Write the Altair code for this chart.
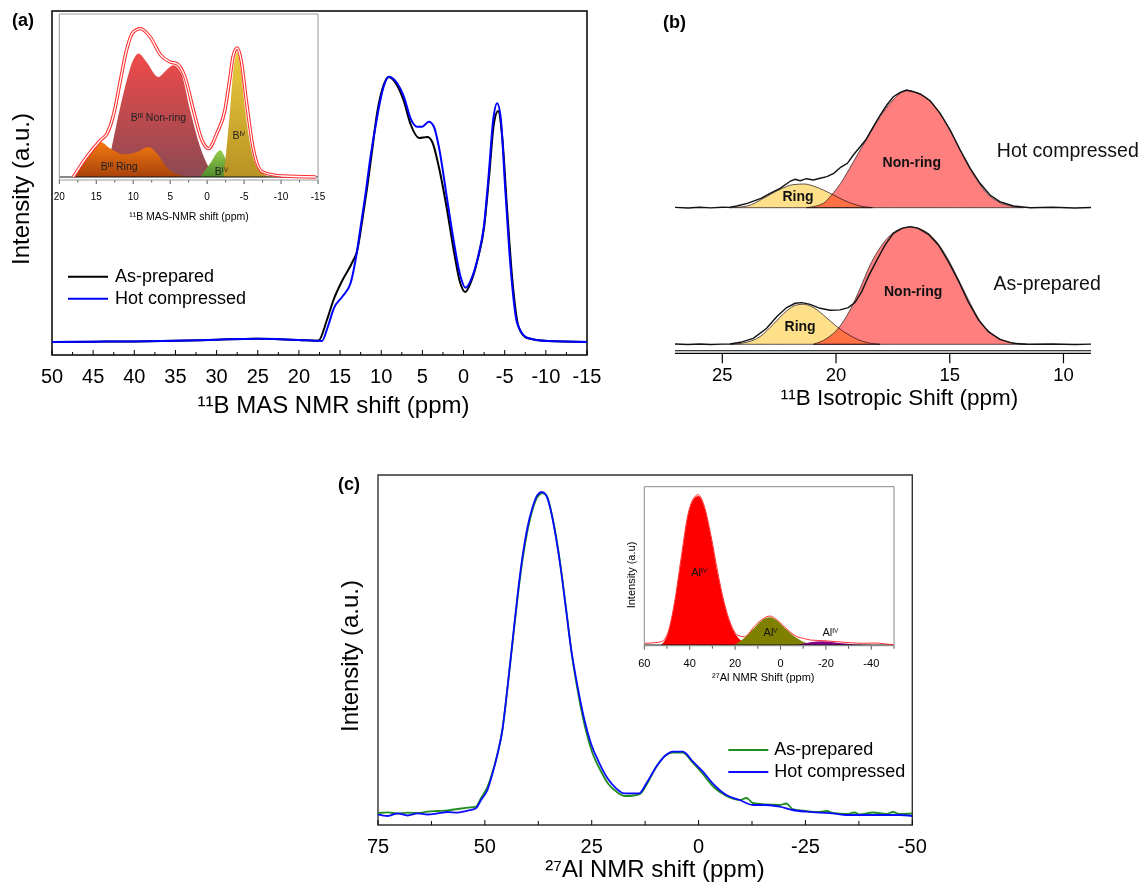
import altair as alt
import pandas as pd

W, H = 1131, 878
FONT = "Liberation Sans"
SERIES = ["As-prepared", "Hot compressed"]


def px(v):
    """page pixel -> chart pixel (the page has an 8 px margin)"""
    return v - 8


def lin(domain, rng):
    return alt.Scale(domain=domain, range=rng, nice=False, zero=False)


# ===================== (a) main : 11B MAS NMR =====================
a_ap_ppm = [50, 45, 40, 35, 30, 25, 20, 18, 17.6, 16.6, 15.8, 14.7, 13.5, 12.9, 12.3, 11.7, 11.1, 10.5,
            9.9, 9.1, 8.1, 7.3, 6.4, 5.4, 4.4, 3.8, 3.0, 2.0, 1.2, 0.4, -0.2, -0.85, -1.7, -2.5, -3.1,
            -3.7, -4.2, -4.7, -5.3, -5.9, -6.7, -7.7, -10.2, -15]
a_ap_int = [0, 0.3, 0.6, 1.2, 2.3, 3.2, 2.0, 1.2, 1.5, 22, 42, 62, 80, 92, 122, 155, 192, 229,
            252, 265, 257, 242, 217, 204, 205, 200, 175, 132, 92, 59, 50, 59, 82, 115, 165,
            219, 231, 205, 132, 65, 15, 4, 1, 0]
a_hc_ppm = [50, 45, 40, 35, 30, 25, 20, 18, 17.2, 16.5, 15.76, 14.74, 13.73, 13.12, 12.5, 11.9, 11.3,
            10.49, 9.88, 9.07, 8.06, 7.25, 6.44, 5.63, 5.02, 4.21, 3.6, 3.0, 1.98, 1.18, 0.36, -0.24,
            -1.06, -1.86, -2.47, -3.07, -3.6, -4.09, -4.5, -5.1, -5.71, -6.52, -7.74, -10.2, -15]
a_hc_int = [0, 0.3, 0.6, 1.2, 2.3, 3.2, 2.0, 1.2, 1.0, 15, 33.7, 45.3, 58.7, 82, 115.3, 148.7, 185.3,
            225.3, 250.3, 265.3, 258.7, 245.3, 223.7, 215.3, 215.3, 220.3, 215.3, 195.3, 142, 100.3, 65.3, 54.3,
            65.3, 88.7, 115.3, 168.7, 222, 238.7, 225.3, 148.7, 75.3, 18.7, 4.3, 1, 0]
a_ticks = [50, 45, 40, 35, 30, 25, 20, 15, 10, 5, 0, -5, -10, -15]
a_minor = [47.5, 42.5, 37.5, 32.5, 27.5, 22.5, 17.5, 12.5, 7.5, 2.5, -2.5, -7.5, -12.5]
a_x_dom = [50, -15]
a_y_dom = [-13, 331]

# ===================== (a) inset : deconvolution =====================
ai_env_ppm = [18.1, 16.3, 14.4, 13.5, 12.6, 11.8, 10.9, 10.0, 9.05, 7.7, 6.3, 5.0, 4.1, 3.0, 1.85, 0.7,
              -0.2, -1.3, -2.4, -3.1, -3.5, -4.07, -4.6, -5.3, -6.2, -7.5, -10.2, -14.7]
ai_env_int = [0, 20, 37, 44, 64, 94, 127, 145, 148.4, 140, 122, 115, 113.4, 100, 66.7, 36.7,
              28.4, 43.4, 66.7, 100, 120, 129, 116.7, 76.7, 30, 5, 1, 0]
ai_nonring_ppm = [13.8, 12.9, 12.2, 11.1, 10.0, 9.3, 8.2, 6.6, 5.5, 4.6, 3.5, 2.3, 0.94, -0.2, -1.3]
ai_nonring_int = [0, 30, 55, 90, 117, 123.4, 115, 100, 107, 111.7, 103.4, 66.7, 30, 10, 0]
ai_ring_ppm = [18.0, 16.3, 14.45, 13.1, 11.3, 9.5, 7.9, 6.8, 5.5, 3.6, 2.2]
ai_ring_int = [0, 20, 35, 28.4, 22.7, 25, 30, 23.4, 10, 1.7, 0]
ai_b4a_ppm = [0.94, -0.4, -1.75, -2.6, -3.5, -4.2]
ai_b4a_int = [0, 13.4, 26.7, 16.7, 3.3, 0]
ai_b4b_ppm = [-2.2, -2.6, -3.1, -3.5, -4.07, -4.5, -5.1, -5.8, -6.9, -8.5, -9.5]
ai_b4b_int = [0, 26.7, 66.7, 103.4, 125, 110, 70, 33.4, 8.4, 0.5, 0]
ai_lab_ppm = [6.6, -4.3, 11.9, -1.9]
ai_lab_int = [59, 41, 10, 5.3]
ai_lab_txt = ["Bᴵᴵᴵ Non-ring", "Bᴵⱽ", "Bᴵᴵᴵ Ring", "Bᴵⱽ"]
ai_ticks = [20, 15, 10, 5, 0, -5, -10, -15]
ai_minor = [17.5, 12.5, 7.5, 2.5, -2.5, -7.5, -12.5]
ai_x_dom = [20, -15]
ai_y_dom = [-3, 163]

# ===================== (b) : isotropic shift =====================
b_hc_off = 136.6
b_hc_exp_ppm = [27.08, 26.5, 26.0, 25.5, 25.0, 24.7, 24.37, 23.9, 23.3, 22.9, 22.46, 22.0, 21.8, 21.58,
                21.3, 21.0, 20.7, 20.4, 20.1, 19.8, 19.5, 19.24, 18.94, 18.7, 18.36, 18.06, 17.77, 17.48,
                17.18, 16.9, 16.6, 16.3, 15.86, 15.42, 14.98, 14.54, 14.1, 13.67, 13.23, 12.8, 12.2,
                11.46, 10.5, 9.5, 8.79]
b_hc_exp_int = [0.3, -0.3, 0.4, -0.2, 0.5, 0.3, 1.7, 4.3, 9.3, 14.3, 19.3, 26.7, 28.4, 27,
                29, 27.7, 29.4, 31, 34.4, 40.4, 44.4, 52.7, 61, 67.7, 81, 92.7, 102.7, 111,
                115.4, 117.7, 116, 113.7, 107, 94.4, 77.7, 57.7, 39.4, 24.4, 12.7, 6, 1.7,
                0, 0.4, -0.3, 0.2]
b_hc_ring_ppm = [24.7, 23.9, 23.2, 22.46, 21.9, 21.4, 21.0, 20.56, 20.2, 19.68, 19.1, 18.4]
b_hc_ring_int = [0, 1.7, 9.3, 18.3, 23, 23.7, 21.7, 17.7, 13.7, 7.7, 2.7, 0]
b_hc_non_ppm = [21.3, 20.56, 20.2, 19.8, 19.4, 18.94, 18.5, 18.06, 17.6, 17.18, 16.8, 16.45, 16.0,
                15.57, 15.13, 14.7, 14.25, 13.8, 13.37, 12.93, 12.34, 11.76]
b_hc_non_int = [0, 4.3, 12.7, 24.3, 39.4, 57.7, 74.4, 91, 105, 114.4, 117, 115, 109.4,
                98.4, 82.7, 64.4, 44.4, 27.7, 14.3, 6.7, 1.7, 0]
b_ap_exp_ppm = [27.08, 26.5, 26, 25.5, 25, 24.66, 24.2, 23.64, 23.05, 22.6, 22.17, 21.8, 21.5, 21.14,
                20.7, 20.26, 19.82, 19.46, 19.16, 18.87, 18.58, 18.2, 17.84, 17.48, 17.1, 16.74, 16.38,
                15.94, 15.5, 15.06, 14.6, 14.18, 13.74, 13.3, 12.8, 12.2, 11.6, 10.5, 9.5, 8.79]
b_ap_exp_int = [0.3, -0.2, 0.3, -0.2, 0.2, 0.3, 2, 6, 16, 27.7, 36.7, 41, 41.7, 40,
                36, 34, 34.4, 36.7, 42, 52.7, 67.7, 84.4, 99.4, 111, 116, 117.7, 116,
                110, 99.4, 82.7, 62.7, 42, 24.4, 12.7, 5, 1, 0, 0.3, -0.2, 0.2]
b_ap_ring_ppm = [24.66, 23.93, 23.34, 22.76, 22.17, 21.73, 21.44, 21.07, 20.56, 19.97, 19.38, 18.8, 18.06]
b_ap_ring_int = [0, 2, 7.7, 20, 33.4, 39.4, 40, 37.7, 29.4, 17.7, 8.7, 2.7, 0]
b_ap_non_ppm = [21.0, 20.4, 19.9, 19.38, 18.94, 18.5, 18.06, 17.6, 17.18, 16.74, 16.3, 15.86, 15.42,
                14.98, 14.54, 14.1, 13.67, 13.23, 12.7, 12.05, 11.6]
b_ap_non_int = [0, 6, 16, 34.4, 56, 79.4, 96.7, 109.4, 115.4, 117.4, 115.4, 109.4, 97.7,
                81, 61, 41, 23.4, 12, 4.4, 0.7, 0]
b_comp_lab_txt = ["Ring", "Non-ring", "Ring", "Non-ring"]
b_comp_lab_ppm = [21.67, 16.67, 21.58, 16.61]
b_comp_lab_int = [11, 44.4, 17.6, 52]
b_comp_lab_spec = ["Hot compressed", "Hot compressed", "As-prepared", "As-prepared"]
b_name_ppm = [12.93, 13.08]
b_name_int = [56.7, 60.3]
b_name_txt = ["Hot compressed", "As-prepared"]
b_ticks = [25, 20, 15, 10]
b_x_dom = [27.08, 8.79]
b_y_dom = [-9, 291]

# ===================== (c) main : 27Al NMR =====================
c_ap_ppm = [75, 72.7, 70.4, 68.1, 65.7, 63.4, 61.1, 58.7, 56.4, 54, 52.1, 50.9, 49.4, 48.2, 47.0, 45.9,
            44.7, 43.5, 42.3, 41.2, 40.0, 38.8, 37.7, 36.5, 35.5, 34.4, 33.2, 32.0, 30.8, 29.7, 28.1,
            26.5, 25.0, 23.0, 21.1, 19.1, 17.2, 15.2, 13.7, 12.2, 9.9, 7.6, 6.0, 3.7, 1.3, -1.0, -3.3,
            -6.5, -9.6, -11.2, -12.7, -15.8, -19, -20.5, -22, -25.2, -28.3, -30, -31.4, -34.6, -36.5,
            -37.7, -40.8, -43.9, -45.5, -47, -50]
c_ap_int = [12, 12.7, 11.3, 12.3, 12, 13.3, 14, 14.7, 16, 17.3, 18.3, 27, 38, 53, 72, 95,
            137, 183, 229, 265, 295, 316, 328, 332, 329, 312, 285, 250, 210, 172, 130,
            97, 74, 55, 41, 33, 29, 29.5, 31, 40, 58, 70, 72.5, 72.5, 62, 51, 39,
            29, 25, 27, 22, 20.5, 20, 21.5, 16, 14, 13, 14, 12, 11, 12.5,
            10.5, 12.5, 11, 13, 11, 11.5]
c_hc_ppm = [75, 72.7, 70.4, 68.1, 65.7, 63.4, 61.1, 58.7, 56.4, 54, 52.1, 50.9, 49.4, 48.2, 47.0, 45.9,
            44.7, 43.5, 42.3, 41.2, 40.0, 38.8, 37.7, 36.7, 35.7, 34.6, 33.4, 32.2, 31.0, 29.9, 28.3,
            26.7, 25.2, 23.2, 21.3, 19.3, 17.4, 15.4, 13.9, 12.2, 9.9, 7.6, 6.0, 3.7, 1.3, -1.0, -3.3,
            -6.5, -9.6, -12.7, -15.8, -19, -22, -25.2, -28.3, -31.4, -34.6, -37.7, -40.8, -43.9,
            -47, -50]
c_hc_int = [10.7, 9, 11.7, 9.5, 11.7, 10.5, 11.7, 13, 12.3, 14.3, 16.7, 25, 35, 51.7, 71.7, 95,
            138, 185, 231.7, 268.3, 298.3, 318.3, 330, 333, 330, 315, 288.3, 255, 215, 178.3, 138.3,
            105, 81.7, 61.7, 46.7, 36.7, 31.7, 31.7, 31.7, 41.7, 58.3, 70, 73.3, 73.3, 63.3, 53.3, 41.7,
            30, 25, 20, 20, 18.3, 15, 13.3, 12.3, 11.7, 10, 10, 10, 10,
            10, 9]
c_ticks = [75, 50, 25, 0, -25, -50]
c_minor = [62.5, 37.5, 12.5, -12.5, -37.5]
c_x_dom = [75, -50]
c_y_dom = [0, 350]

# ===================== (c) inset : 27Al deconvolution =====================
ci_exp_ppm = [60, 55.5, 52.5, 49.6, 46.7, 43.8, 40.9, 38.0, 36.2, 33.6, 30.6, 27.7, 24.8, 21.9, 19.0,
              16.1, 14.6, 11.7, 8.0, 4.7, 1.5, -2.9, -7.3, -10.2, -13.1, -19, -24.8, -30.6, -36.5,
              -42.3, -45, -50]
ci_exp_int = [1.7, 2.3, 3.3, 12.3, 42.3, 86.7, 129, 147.7, 150.3, 139, 109, 73.3, 42.3, 21, 10,
              8.3, 10, 18.3, 25.7, 29, 25, 15.7, 8.3, 6.7, 5, 4.3, 3.3, 2.3, 1.7,
              2, 1.3, 0.3]
ci_al4_ppm = [52.5, 49.6, 46.7, 43.8, 40.9, 38.0, 36.2, 33.6, 30.6, 27.7, 24.8, 21.9, 19.0, 14.6, 11.5]
ci_al4_int = [0, 11.7, 41.7, 85, 128.3, 146.7, 149, 138.3, 108.3, 71.7, 41.7, 20, 8.3, 1.7, 0]
ci_al5_ppm = [20.4, 16.1, 11.7, 8.0, 4.7, 1.5, -2.9, -7.3, -11.7, -14.6]
ci_al5_int = [0, 6.7, 16.7, 25, 27.7, 24.3, 15, 6.7, 1.7, 0]
ci_al6_ppm = [-7.3, -13.1, -19, -24.8, -32, -40]
ci_al6_int = [0, 2.7, 3.7, 2.3, 0.7, 0]
ci_lab_ppm = [35.9, 4.4, -21.9]
ci_lab_int = [71.7, 11.7, 11.7]
ci_lab_txt = ["Alᴵⱽ", "Alⱽ", "Alᴵⱽ"]
ci_ticks = [60, 40, 20, 0, -20, -40]
ci_minor = [50, 30, 10, -10, -30, -50]
ci_x_dom = [60, -50]
ci_y_dom = [-0.7, 158.3]

# ===================== titles =====================
title_txt = ["¹¹B MAS NMR shift (ppm)", "Intensity (a.u.)", "¹¹B MAS-NMR shift (ppm)",
             "¹¹B Isotropic Shift (ppm)", "²⁷Al NMR shift (ppm)", "Intensity (a.u.)",
             "²⁷Al NMR Shift (ppm)", "Intensity (a.u)"]
tag_txt = ["(a)", "(b)", "(c)"]


# ------------------------------------------------------------------ helpers
def frame(xdom, ydom, xs, ys, color, width):
    d = pd.DataFrame({"x0": [xdom[0]], "x1": [xdom[1]], "y0": [ydom[0]], "y1": [ydom[1]]})
    return alt.Chart(d).mark_rect(filled=False, stroke=color, strokeWidth=width).encode(
        x=alt.X("x0:Q", scale=xs, axis=None), x2="x1",
        y=alt.Y("y0:Q", scale=ys, axis=None), y2="y1")


def tick_rules(values, y0, length, xs, ys, width=1.0, color="black"):
    d = pd.DataFrame({"v": values})
    d["y0"] = y0
    d["y1"] = y0 + length
    return alt.Chart(d).mark_rule(color=color, strokeWidth=width).encode(
        x=alt.X("v:Q", scale=xs, axis=None), y=alt.Y("y0:Q", scale=ys, axis=None), y2="y1")


def tick_labels(values, yv, xs, ys, size):
    d = pd.DataFrame({"v": values, "t": [f"{v:g}" for v in values]})
    d["y"] = yv
    return alt.Chart(d).mark_text(font=FONT, fontSize=size, baseline="alphabetic", align="center",
                                  color="black").encode(
        x=alt.X("v:Q", scale=xs, axis=None), y=alt.Y("y:Q", scale=ys, axis=None), text="t:N")


def hline(xdom, yv, xs, ys, color, width):
    d = pd.DataFrame({"x0": [xdom[0]], "x1": [xdom[1]], "y": [yv]})
    return alt.Chart(d).mark_rule(color=color, strokeWidth=width).encode(
        x=alt.X("x0:Q", scale=xs, axis=None), x2="x1", y=alt.Y("y:Q", scale=ys, axis=None))


def area(xv, yv, xs, ys, **mk):
    d = pd.DataFrame({"ppm": xv, "I": yv})
    return alt.Chart(d).mark_area(interpolate="monotone", **mk).encode(
        x=alt.X("ppm:Q", scale=xs, axis=None), y=alt.Y("I:Q", scale=ys, axis=None), y2=alt.datum(0))


def curve(xv, yv, xs, ys, **mk):
    d = pd.DataFrame({"ppm": xv, "I": yv})
    return alt.Chart(d).mark_line(**mk).encode(
        x=alt.X("ppm:Q", scale=xs, axis=None), y=alt.Y("I:Q", scale=ys, axis=None))


def texts(xv, yv, tv, xs, ys, **mk):
    d = pd.DataFrame({"ppm": xv, "I": yv, "t": tv})
    return alt.Chart(d).mark_text(font=FONT, **mk).encode(
        x=alt.X("ppm:Q", scale=xs, axis=None), y=alt.Y("I:Q", scale=ys, axis=None), text="t:N")


def grad(top, bottom):
    return alt.Gradient(gradient="linear",
                        stops=[alt.GradientStop(color=top, offset=0),
                               alt.GradientStop(color=bottom, offset=1)],
                        x1=1, x2=1, y1=0, y2=1)


def legend(lx, ly, offset):
    return alt.Legend(orient="none", legendX=lx, legendY=ly, title=None, labelFontSize=18,
                      labelFont=FONT, labelColor="black", symbolType="stroke", symbolSize=1600,
                      symbolStrokeWidth=2, clipHeight=21.5, rowPadding=0, labelOffset=offset,
                      padding=0)


def free_text(txt, x, y, size, angle=0, weight="normal", align="center", baseline="alphabetic"):
    return alt.Chart(pd.DataFrame({"t": [txt]})).mark_text(
        font=FONT, fontSize=size, fontWeight=weight, align=align, baseline=baseline,
        angle=angle, color="black").encode(x=alt.value(x), y=alt.value(y), text="t:N")


# ------------------------------------------------------------------ (a) main
xa = lin(a_x_dom, [px(52), px(587)])
ya = lin(a_y_dom, [px(355), px(11)])
a_df = pd.concat([
    pd.DataFrame({"ppm": a_ap_ppm, "I": a_ap_int, "Sample": SERIES[0]}),
    pd.DataFrame({"ppm": a_hc_ppm, "I": a_hc_int, "Sample": SERIES[1]}),
], ignore_index=True)
a_lines = alt.Chart(a_df).mark_line(strokeWidth=2, interpolate="monotone").encode(
    x=alt.X("ppm:Q", scale=xa, axis=None),
    y=alt.Y("I:Q", scale=ya, axis=None),
    color=alt.Color("Sample:N", scale=alt.Scale(domain=SERIES, range=["#000000", "#0000ff"]),
                    legend=legend(px(67), px(276.7 - 10.75), 6)),
)
A_main = alt.layer(
    frame(a_x_dom, a_y_dom, xa, ya, "black", 1.5),
    tick_rules(a_ticks, a_y_dom[0], 5, xa, ya),
    tick_rules(a_minor, a_y_dom[0], 3, xa, ya),
    tick_labels(a_ticks, -41.3, xa, ya, 20),
    a_lines,
)

# ------------------------------------------------------------------ (a) inset
xai = lin(ai_x_dom, [px(59.3), px(318)])
yai = lin(ai_y_dom, [px(180), px(14)])
A_inset = alt.layer(
    area(ai_nonring_ppm, ai_nonring_int, xai, yai, color=grad("#f04a4a", "#8c4a52")),
    area(ai_ring_ppm, ai_ring_int, xai, yai, color=grad("#f47a10", "#a8420c")),
    area(ai_b4a_ppm, ai_b4a_int, xai, yai, color=grad("#96cc4e", "#4f8a2a")),
    area(ai_b4b_ppm, ai_b4b_int, xai, yai, color=grad("#ecca3c", "#b89224")),
    hline(ai_x_dom, 0, xai, yai, "#111111", 1.2),
    curve(ai_env_ppm, ai_env_int, xai, yai, color="#ff2a2a", strokeWidth=3.4, interpolate="monotone"),
    curve(ai_env_ppm, ai_env_int, xai, yai, color="#ffffff", strokeWidth=1.3, interpolate="monotone"),
    texts(ai_lab_ppm, ai_lab_int, ai_lab_txt, xai, yai, fontSize=10.5, color="#222222"),
    tick_rules(ai_ticks, ai_y_dom[0], -4, xai, yai, color="#555555"),
    tick_rules(ai_minor, ai_y_dom[0], -2.5, xai, yai, color="#555555"),
    tick_labels(ai_ticks, -23, xai, yai, 10),
    frame(ai_x_dom, ai_y_dom, xai, yai, "#9a9a9a", 1),
)

# ------------------------------------------------------------------ (b)
xb = lin(b_x_dom, [px(675), px(1091)])
yb = lin(b_y_dom, [px(353.3), px(53.3)])


def spec_df(xv, yv, name, off):
    d = pd.DataFrame({"ppm": xv, "I": yv})
    d["top"] = d["I"] + off
    d["base"] = off
    d["Spectrum"] = name
    return d


b_exp = pd.concat([spec_df(b_hc_exp_ppm, b_hc_exp_int, "Hot compressed", b_hc_off),
                   spec_df(b_ap_exp_ppm, b_ap_exp_int, "As-prepared", 0)], ignore_index=True)
b_ring = pd.concat([spec_df(b_hc_ring_ppm, b_hc_ring_int, "Hot compressed", b_hc_off),
                    spec_df(b_ap_ring_ppm, b_ap_ring_int, "As-prepared", 0)], ignore_index=True)
b_non = pd.concat([spec_df(b_hc_non_ppm, b_hc_non_int, "Hot compressed", b_hc_off),
                   spec_df(b_ap_non_ppm, b_ap_non_int, "As-prepared", 0)], ignore_index=True)
b_offsets = {"Hot compressed": b_hc_off, "As-prepared": 0}
b_lab = pd.DataFrame({"ppm": b_comp_lab_ppm, "I": b_comp_lab_int, "t": b_comp_lab_txt,
                      "s": b_comp_lab_spec})
b_lab["top"] = b_lab["I"] + b_lab["s"].map(b_offsets)
b_names = pd.DataFrame({"ppm": b_name_ppm, "I": b_name_int, "t": b_name_txt})
b_names["top"] = b_names["I"] + b_names["t"].map(b_offsets)


def b_area(df, fill):
    return alt.Chart(df).mark_area(interpolate="monotone", fill=fill, stroke="#3a2a2a",
                                   strokeWidth=0.8, blend="multiply").encode(
        x=alt.X("ppm:Q", scale=xb, axis=None), y=alt.Y("top:Q", scale=yb, axis=None),
        y2="base:Q", detail="Spectrum:N")


B_panel = alt.layer(
    b_area(b_ring, "#ffe08a"),
    b_area(b_non, "#ff7f7f"),
    alt.Chart(b_exp).mark_line(color="#111111", strokeWidth=1.4).encode(
        x=alt.X("ppm:Q", scale=xb, axis=None), y=alt.Y("top:Q", scale=yb, axis=None),
        detail="Spectrum:N"),
    hline(b_x_dom, b_y_dom[0], xb, yb, "black", 1.3),
    hline(b_x_dom, -6.4, xb, yb, "black", 1.1),
    tick_rules(b_ticks, b_y_dom[0], -10, xb, yb, width=1.2),
    tick_labels(b_ticks, -36.4, xb, yb, 18.5),
    alt.Chart(b_lab).mark_text(font=FONT, fontSize=14, fontWeight="bold", color="#111111").encode(
        x=alt.X("ppm:Q", scale=xb, axis=None), y=alt.Y("top:Q", scale=yb, axis=None), text="t:N"),
    alt.Chart(b_names).mark_text(font=FONT, fontSize=19.5, align="left", color="#111111").encode(
        x=alt.X("ppm:Q", scale=xb, axis=None), y=alt.Y("top:Q", scale=yb, axis=None), text="t:N"),
)

# ------------------------------------------------------------------ (c) main
xc = lin(c_x_dom, [px(378), px(912.3)])
yc = lin(c_y_dom, [px(825), px(475)])
c_df = pd.concat([
    pd.DataFrame({"ppm": c_ap_ppm, "I": c_ap_int, "Sample": SERIES[0]}),
    pd.DataFrame({"ppm": c_hc_ppm, "I": c_hc_int, "Sample": SERIES[1]}),
], ignore_index=True)
c_lines = alt.Chart(c_df).mark_line(strokeWidth=1.8, interpolate="monotone").encode(
    x=alt.X("ppm:Q", scale=xc, axis=None),
    y=alt.Y("I:Q", scale=yc, axis=None),
    color=alt.Color("Sample:N", scale=alt.Scale(domain=SERIES, range=["#1e8c1e", "#0a0aff"]),
                    legend=legend(px(727.3), px(750 - 10.75), 5)),
)
C_main = alt.layer(
    frame(c_x_dom, c_y_dom, xc, yc, "#333333", 1.4),
    tick_rules(c_ticks, c_y_dom[0], 5, xc, yc),
    tick_rules(c_minor, c_y_dom[0], 4, xc, yc),
    tick_labels(c_ticks, -27.6, xc, yc, 20),
    c_lines,
)

# ------------------------------------------------------------------ (c) inset
xci = lin(ci_x_dom, [px(644.3), px(894)])
yci = lin(ci_y_dom, [px(645.7), px(486.7)])
C_inset = alt.layer(
    area(ci_al4_ppm, ci_al4_int, xci, yci, color="#ff0000"),
    area(ci_al5_ppm, ci_al5_int, xci, yci, color="#808000"),
    area(ci_al6_ppm, ci_al6_int, xci, yci, color="#8a008a"),
    hline(ci_x_dom, 0, xci, yci, "#111111", 1.0),
    curve(ci_exp_ppm, ci_exp_int, xci, yci, color="#ff3030", strokeWidth=1, interpolate="monotone"),
    texts(ci_lab_ppm, ci_lab_int, ci_lab_txt, xci, yci, fontSize=11, color="#111111"),
    tick_rules(ci_ticks, ci_y_dom[0], -4, xci, yci, color="#555555"),
    tick_rules(ci_minor, ci_y_dom[0], -3, xci, yci, color="#555555"),
    tick_labels(ci_ticks, -22, xci, yci, 11),
    frame(ci_x_dom, ci_y_dom, xci, yci, "#8a8a8a", 1),
)

# ------------------------------------------------------------------ axis titles & panel tags
Titles = alt.layer(
    free_text(title_txt[0], px(333.5), px(413.3), 24),
    free_text(title_txt[1], px(22), px(189), 24, angle=270, baseline="middle"),
    free_text(title_txt[2], px(189), px(220), 10.5),
    free_text(title_txt[3], px(899.5), px(405), 22.5),
    free_text(title_txt[4], px(655), px(877), 24),
    free_text(title_txt[5], px(351), px(656), 24, angle=270, baseline="middle"),
    free_text(title_txt[6], px(763.3), px(680.5), 11),
    free_text(title_txt[7], px(631.7), px(575), 11, angle=270, baseline="middle"),
    free_text(tag_txt[0], px(12), px(26), 18, weight="bold", align="left"),
    free_text(tag_txt[1], px(663), px(28), 18, weight="bold", align="left"),
    free_text(tag_txt[2], px(338), px(490), 18, weight="bold", align="left"),
)

chart = alt.layer(A_main, A_inset, B_panel, C_main, C_inset, Titles).resolve_scale(
    x="independent", y="independent", color="independent"
).properties(
    width=W, height=H, padding=0, autosize=alt.AutoSizeParams(type="none")
).configure_view(stroke=None)

chart.save("out.html", embed_options={"renderer": "svg", "actions": False})
